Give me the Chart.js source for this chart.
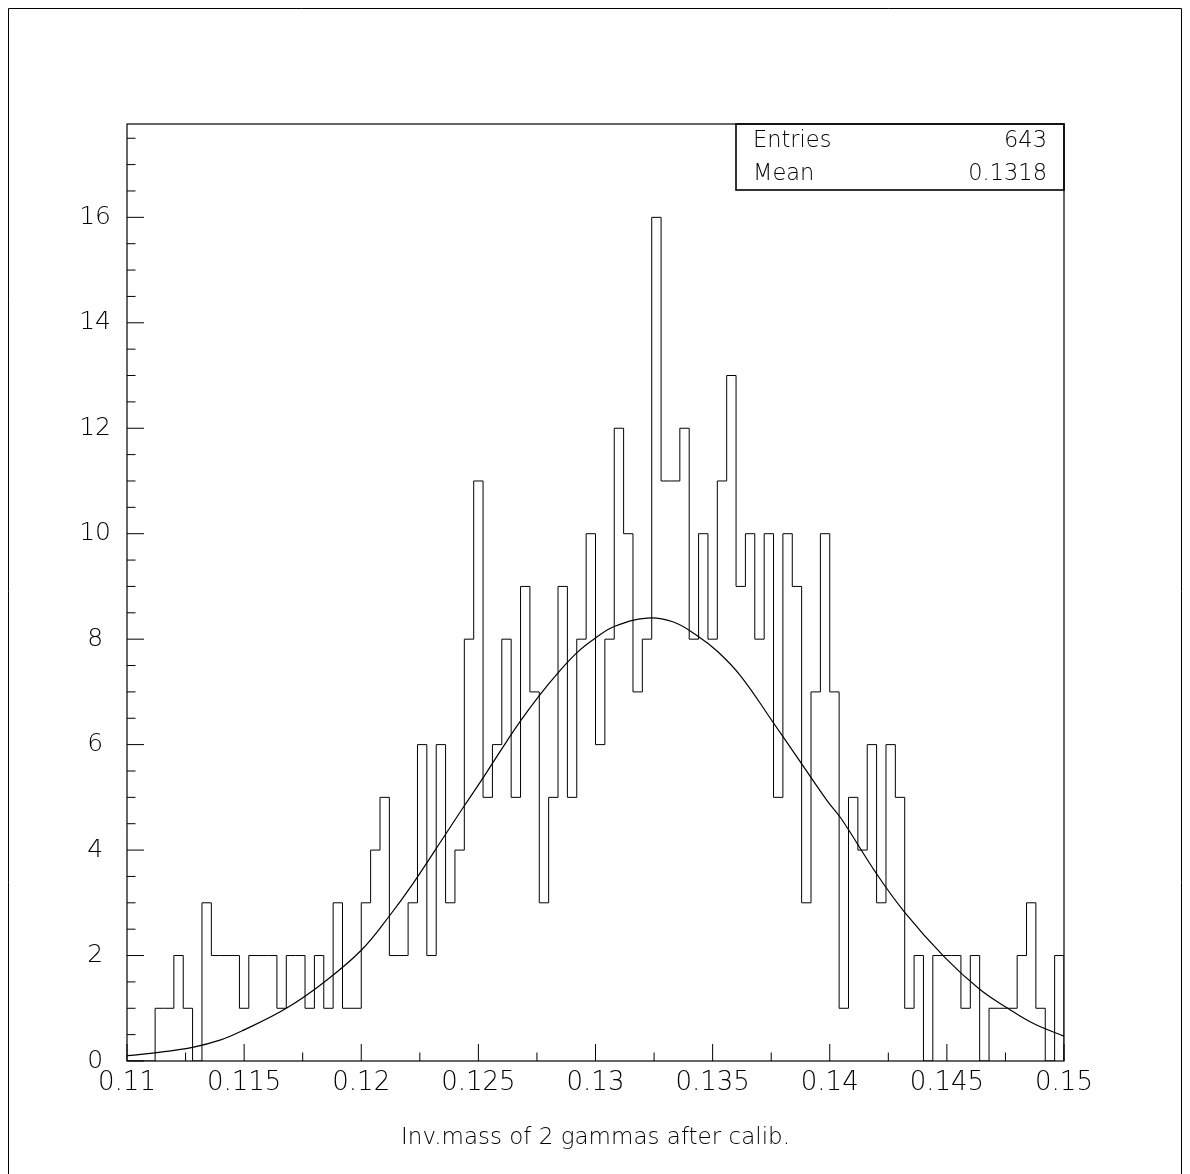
<!DOCTYPE html>
<html>
<head>
<meta charset="utf-8">
<style>
  html, body { margin: 0; padding: 0; background: #fff; }
  #wrap { width: 1190px; height: 1174px; }
</style>
<script src="https://cdn.jsdelivr.net/npm/chart.js@4.4.1/dist/chart.umd.min.js"></script>
</head>
<body>
<div id="wrap"><canvas id="chart" width="1190" height="1174"></canvas></div>
<script>
// Histogram binning (100 bins from 0.11 to 0.15)
const binLow = 0.11;
const binWidth = 0.0004;

// Counts per bin
const counts = [
  0, 0, 0, 1, 1, 2, 1, 0, 3, 2,
  2, 2, 1, 2, 2, 2, 1, 2, 2, 1,
  2, 1, 3, 1, 1, 3, 4, 5, 2, 2,
  3, 6, 2, 6, 3, 4, 8, 11, 5, 6,
  8, 5, 9, 7, 3, 5, 9, 5, 8, 10,
  6, 8, 12, 10, 7, 8, 16, 11, 11, 12,
  8, 10, 8, 11, 13, 9, 10, 8, 10, 5,
  10, 9, 3, 7, 10, 7, 1, 5, 4, 6,
  3, 6, 5, 1, 2, 0, 2, 2, 2, 1,
  2, 0, 1, 1, 1, 2, 3, 1, 0, 2
];

// Fitted curve
const fitX = [0.1100, 0.1111, 0.1128, 0.1140, 0.1150, 0.1168, 0.1184, 0.1200, 0.1212, 0.1222,
              0.1236, 0.1244, 0.1252, 0.1260, 0.1268, 0.1276, 0.1284, 0.1292, 0.1300, 0.1308,
              0.1322, 0.1333, 0.1343, 0.1352, 0.1362, 0.1376, 0.1387, 0.1399, 0.1405, 0.1420,
              0.1432, 0.1449, 0.1464, 0.1476, 0.1487, 0.1500];
const fitY = [0.10, 0.15, 0.26, 0.40, 0.59, 1.00, 1.49, 2.10, 2.75, 3.36,
              4.30, 4.84, 5.37, 5.92, 6.45, 6.93, 7.36, 7.74, 8.02, 8.24,
              8.40, 8.33, 8.08, 7.77, 7.30, 6.41, 5.70, 4.93, 4.59, 3.55,
              2.82, 1.97, 1.36, 1.00, 0.71, 0.47];

// Axis ticks
const xTickValues = [0.11, 0.115, 0.12, 0.125, 0.13, 0.135, 0.14, 0.145, 0.15];
const yTickValues = [0, 2, 4, 6, 8, 10, 12, 14, 16];
const yMax = 17.77;

// Stats box
const statsLabels = ['Entries', 'Mean'];
const statsValues = ['643', '0.1318'];

const axisTitle = 'Inv.mass of 2 gammas after calib.';

const FONT = '"DejaVu Sans", "Liberation Sans", sans-serif';

// Build step outline points from bin low edges
const histPoints = counts.map((c, i) => ({ x: binLow + i * binWidth, y: c }));
histPoints.push({ x: binLow + counts.length * binWidth, y: counts[counts.length - 1] });
histPoints.push({ x: binLow + counts.length * binWidth, y: 0 });

const fitPoints = fitX.map((v, i) => ({ x: v, y: fitY[i] }));

// Frame, inside tick marks, stats box and page border
const pawDecor = {
  id: 'pawDecor',
  beforeDraw(chart) {
    const { ctx, width, height } = chart;
    ctx.save();
    ctx.strokeStyle = '#000';
    ctx.lineWidth = 1;
    ctx.beginPath();
    ctx.moveTo(8.5, height);
    ctx.lineTo(8.5, 8.5);
    ctx.lineTo(width - 8.5, 8.5);
    ctx.lineTo(width - 8.5, height);
    ctx.stroke();
    ctx.restore();
  },
  afterDatasetsDraw(chart) {
    const { ctx, chartArea: a, scales: { x, y } } = chart;
    ctx.save();
    ctx.strokeStyle = '#000';
    ctx.lineWidth = 1.2;
    ctx.strokeRect(a.left, a.top, a.right - a.left, a.bottom - a.top);

    ctx.lineWidth = 1;
    ctx.beginPath();
    // x ticks: labelled ones long, half-steps short
    for (let i = 0; i < xTickValues.length; i++) {
      const px = x.getPixelForValue(xTickValues[i]);
      ctx.moveTo(px, a.bottom);
      ctx.lineTo(px, a.bottom - 17);
      if (i < xTickValues.length - 1) {
        const mid = x.getPixelForValue((xTickValues[i] + xTickValues[i + 1]) / 2);
        ctx.moveTo(mid, a.bottom);
        ctx.lineTo(mid, a.bottom - 8.5);
      }
    }
    // y ticks: every 0.5, long on labelled values
    for (let k = 0; k * 0.5 <= yMax; k++) {
      const v = k * 0.5;
      const py = y.getPixelForValue(v);
      const len = yTickValues.includes(v) ? 17 : 8.5;
      ctx.moveTo(a.left, py);
      ctx.lineTo(a.left + len, py);
    }
    ctx.stroke();

    // stats box
    const boxW = 328, rowH = 33;
    const bx = a.right - boxW, by = a.top;
    ctx.lineWidth = 1.6;
    ctx.strokeRect(bx, by, boxW, rowH * statsLabels.length);
    ctx.fillStyle = '#000';
    ctx.font = '200 22.5px ' + FONT;
    ctx.textBaseline = 'middle';
    statsLabels.forEach((lab, i) => {
      const ty = by + rowH * i + rowH / 2 + 1;
      ctx.textAlign = 'left';
      ctx.fillText(lab, bx + 17, ty);
      ctx.textAlign = 'right';
      ctx.fillText(statsValues[i], a.right - 17, ty);
    });
    ctx.restore();
  }
};

new Chart(document.getElementById('chart'), {
  type: 'line',
  data: {
    datasets: [
      {
        label: 'histogram',
        data: histPoints,
        stepped: 'before',
        borderColor: '#000',
        borderWidth: 1,
        pointRadius: 0,
        fill: false
      },
      {
        label: 'fit',
        data: fitPoints,
        tension: 0.4,
        borderColor: '#000',
        borderWidth: 1.2,
        pointRadius: 0,
        fill: false
      }
    ]
  },
  options: {
    responsive: false,
    animation: false,
    events: [],
    layout: { padding: { top: 124, right: 126, left: 0, bottom: 0 } },
    plugins: {
      legend: { display: false },
      tooltip: { enabled: false },
      title: { display: false }
    },
    scales: {
      x: {
        type: 'linear',
        min: binLow,
        max: binLow + counts.length * binWidth,
        afterFit: s => { s.height = 113; },
        afterBuildTicks: s => { s.ticks = xTickValues.map(v => ({ value: v })); },
        grid: { display: false, drawTicks: false },
        border: { display: false },
        ticks: {
          color: '#000',
          padding: 7,
          autoSkip: false,
          maxRotation: 0,
          font: { family: FONT, size: 26, weight: '200' },
          callback: v => String(v)
        },
        title: {
          display: true,
          text: axisTitle,
          color: '#000',
          font: { family: FONT, size: 23, weight: '200' },
          padding: { top: 0, bottom: 22 }
        }
      },
      y: {
        type: 'linear',
        min: 0,
        max: yMax,
        afterFit: s => { s.width = 127; },
        afterBuildTicks: s => { s.ticks = yTickValues.map(v => ({ value: v })); },
        grid: { display: false, drawTicks: false },
        border: { display: false },
        ticks: {
          color: '#000',
          padding: 16,
          crossAlign: 'center',
          font: { family: FONT, size: 25, weight: '200' }
        }
      }
    }
  },
  plugins: [pawDecor]
});
</script>
</body>
</html>
